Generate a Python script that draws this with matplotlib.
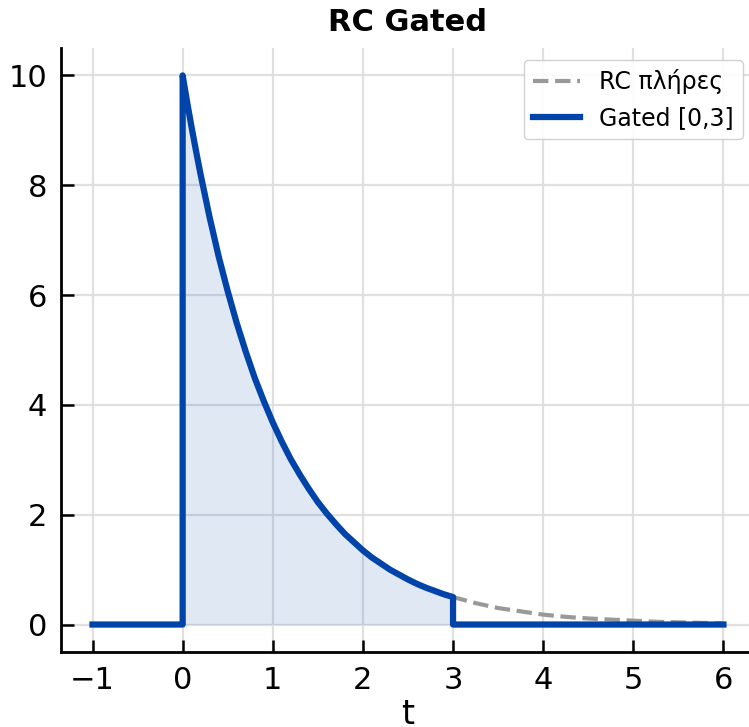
import matplotlib.pyplot as plt

# Tempo (amostras) e valores da curva RC
t_rc = [0, 0.05, 0.1, 0.15, 0.2, 0.3, 0.4, 0.5, 0.6, 0.7, 0.8, 0.9, 1.0,
        1.1, 1.2, 1.3, 1.4, 1.5, 1.6, 1.7, 1.8, 1.9, 2.0,
        2.1, 2.2, 2.3, 2.4, 2.5, 2.6, 2.7, 2.8, 2.9, 3.0,
        3.25, 3.5, 3.75, 4, 4.25, 4.5, 4.75, 5, 5.25, 5.5, 5.75, 6]
v_rc = [10, 9.51, 9.05, 8.61, 8.19, 7.41, 6.70, 6.07, 5.49, 4.97, 4.49, 4.07, 3.68,
        3.33, 3.01, 2.73, 2.47, 2.23, 2.02, 1.83, 1.65, 1.50, 1.35,
        1.22, 1.11, 1.00, 0.91, 0.82, 0.74, 0.67, 0.61, 0.55, 0.50,
        0.39, 0.30, 0.24, 0.18, 0.14, 0.11, 0.09, 0.07, 0.05, 0.04, 0.03, 0.02]

# Janela do gate
t_ini, t_fim = 0, 3
t_min, t_max = -1, 6

# Monta a curva "gated": zero fora da janela
dentro = [(t, v) for t, v in zip(t_rc, v_rc) if t_ini <= t <= t_fim]
t_gated = [t_min, t_ini] + [p[0] for p in dentro] + [t_fim, t_max]
v_gated = [0, 0] + [p[1] for p in dentro] + [0, 0]

azul = '#0044AA'
cinza = '#999999'

fig = plt.figure(figsize=(7.49, 7.27), dpi=100)
ax = fig.add_axes([0.0814, 0.1032, 0.9266, 0.8308])

ax.fill_between([p[0] for p in dentro], [p[1] for p in dentro], 0,
                color=azul, alpha=0.12, linewidth=0)
ax.plot(t_rc, v_rc, '--', color=cinza, linewidth=3, label='RC πλήρες')
ax.plot(t_gated, v_gated, color=azul, linewidth=4.5, label='Gated [0,3]',
        solid_joinstyle='round')

ax.set_xticks(range(-1, 7))
ax.set_yticks(range(0, 11, 2))
ax.grid(True, color='#e0e0e0', linewidth=1.6)
ax.set_axisbelow(True)
ax.spines['top'].set_visible(False)
ax.spines['right'].set_visible(False)
ax.spines['left'].set_linewidth(2)
ax.spines['bottom'].set_linewidth(2)
ax.tick_params(direction='in', length=9, width=1.8, labelsize=22, pad=10)

ax.set_title('RC Gated', fontsize=22, fontweight='bold', pad=12)
ax.set_xlabel('t', fontsize=24, labelpad=2)
ax.legend(loc='upper right', fontsize=17, handlelength=2.0, framealpha=0.9,
          edgecolor='#cccccc', fancybox=True, borderpad=0.4)

plt.savefig('out.png', dpi=100)
plt.close()
